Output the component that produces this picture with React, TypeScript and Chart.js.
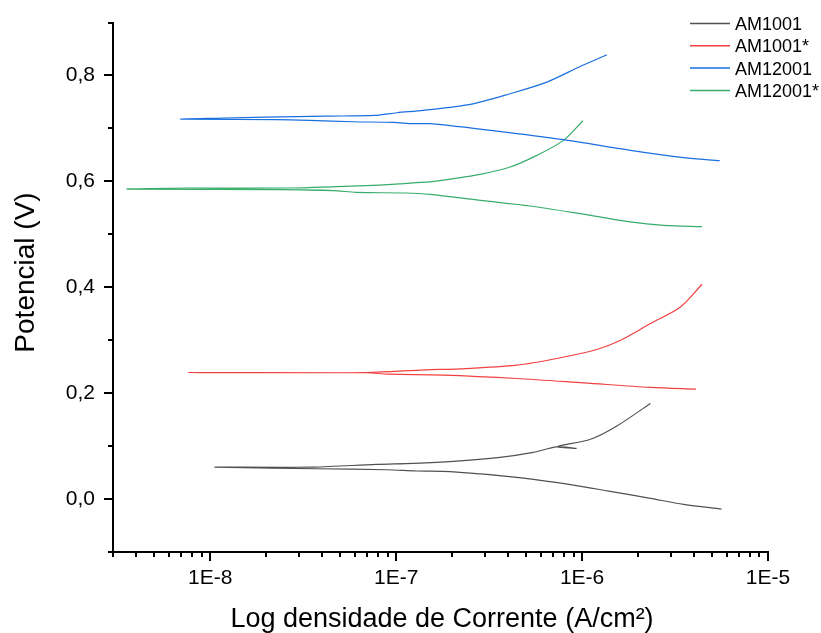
import React, { useEffect, useRef } from 'react';
import { Chart, registerables } from 'chart.js';

Chart.register(...registerables);

// ---- Data (current density in A/cm², potential in V) ----
const seriesLabels = ['AM1001', 'AM1001*', 'AM12001', 'AM12001*'];
const seriesColors = ['#515151', '#F14040', '#1A6FDF', '#37AD6B'];

const am1001Current = [5.62e-6, 3.52e-6, 2.33e-6, 1.39e-6, 8.99e-7, 4.45e-7, 1.95e-7, 1.29e-7, 8.88e-8, 3.72e-8, 1.06e-8, 3.57e-8, 7.84e-8, 1.24e-7, 2.03e-7, 3.62e-7, 5.47e-7, 7.31e-7, 9.29e-7, 7.40e-7, 1.11e-6, 1.54e-6, 2.33e-6];
const am1001Potential = [-0.0189, -0.0100, 0.0013, 0.0151, 0.0264, 0.0409, 0.0518, 0.0530, 0.0553, 0.0572, 0.0604, 0.0604, 0.0655, 0.0674, 0.0711, 0.0787, 0.0881, 0.0985, 0.0957, 0.0990, 0.1130, 0.1380, 0.1806];

const am1001sCurrent = [4.10e-6, 2.33e-6, 1.02e-6, 4.45e-7, 1.79e-7, 9.06e-8, 6.93e-8, 7.64e-9, 6.93e-8, 1.43e-7, 2.20e-7, 4.45e-7, 7.31e-7, 1.20e-6, 1.61e-6, 2.33e-6, 3.38e-6, 4.42e-6];
const am1001sPotential = [0.2075, 0.2108, 0.2194, 0.2277, 0.2340, 0.2358, 0.2385, 0.2390, 0.2390, 0.2440, 0.2458, 0.2528, 0.2655, 0.2825, 0.3000, 0.3315, 0.3628, 0.4057];

const am12001Current = [5.50e-6, 3.52e-6, 1.82e-6, 7.94e-7, 3.48e-7, 1.52e-7, 1.24e-7, 9.63e-8, 5.87e-8, 3.43e-8, 2.27e-8, 6.98e-9, 1.17e-8, 2.00e-8, 4.22e-8, 7.68e-8, 1.01e-7, 1.40e-7, 2.50e-7, 4.10e-7, 6.46e-7, 9.77e-7, 1.36e-6];
const am12001Potential = [0.6390, 0.6447, 0.6585, 0.6787, 0.6949, 0.7089, 0.7089, 0.7113, 0.7126, 0.7151, 0.7164, 0.7175, 0.7194, 0.7213, 0.7232, 0.7245, 0.7296, 0.7340, 0.7453, 0.7655, 0.7874, 0.8170, 0.8390];

const am12001sCurrent = [4.42e-6, 2.75e-6, 1.82e-6, 9.77e-7, 5.25e-7, 2.83e-7, 1.52e-7, 1.11e-7, 6.12e-8, 4.58e-8, 2.46e-8, 3.60e-9, 7.43e-9, 2.73e-8, 4.77e-8, 6.93e-8, 9.45e-8, 1.29e-7, 1.52e-7, 2.83e-7, 4.10e-7, 5.71e-7, 7.94e-7, 1.01e-6];
const am12001sPotential = [0.5145, 0.5170, 0.5233, 0.5390, 0.5535, 0.5642, 0.5755, 0.5780, 0.5792, 0.5825, 0.5843, 0.5855, 0.5874, 0.5874, 0.5900, 0.5919, 0.5943, 0.5975, 0.5990, 0.6132, 0.6270, 0.6490, 0.6774, 0.7145];

// ---- Axes ----
const xMin = 3e-9;
const xMax = 1e-5;
const xMajorTicks = [1e-8, 1e-7, 1e-6, 1e-5];
const xTickLabels = ['1E-8', '1E-7', '1E-6', '1E-5'];
const xMinorMultipliers = [1, 2, 3, 4, 5, 6, 7, 8, 9];
const xDecades = [-9, -8, -7, -6, -5];

const yMin = -0.1;
const yMax = 0.9;
const yTickValues = [-0.1, 0.0, 0.1, 0.2, 0.3, 0.4, 0.5, 0.6, 0.7, 0.8, 0.9];
const yTickLabels = ['', '0,0', '', '0,2', '', '0,4', '', '0,6', '', '0,8', ''];

const xTitle = 'Log densidade de Corrente (A/cm²)';
const yTitle = 'Potencial (V)';

const FONT = '"Liberation Sans", Arial, Helvetica, sans-serif';

function toPoints(xs: number[], ys: number[]) {
  return xs.map((x, i) => ({ x, y: ys[i] }));
}

function isXMajor(v: number) {
  return xMajorTicks.some((m) => Math.abs(m - v) / m < 1e-6);
}
function isYMajor(v: number) {
  const i = yTickValues.findIndex((t) => Math.abs(t - v) < 1e-9);
  return i >= 0 && yTickLabels[i] !== '';
}

const xTickValues: number[] = [];
xDecades.forEach((d) => {
  xMinorMultipliers.forEach((m) => {
    const v = m * Math.pow(10, d);
    if (v >= xMin * (1 - 1e-9) && v <= xMax * (1 + 1e-9)) xTickValues.push(v);
  });
});

const decorPlugin = {
  id: 'decor',
  afterDraw(chart: any) {
    const { ctx } = chart;
    const xs = chart.scales.x;
    const ys = chart.scales.y;
    ctx.save();
    // tick marks
    ctx.strokeStyle = '#000';
    ctx.lineWidth = 2;
    xs.ticks.forEach((t: any) => {
      const px = Math.round(xs.getPixelForValue(t.value));
      const len = isXMajor(t.value) ? 9 : 5;
      ctx.beginPath();
      ctx.moveTo(px, xs.top);
      ctx.lineTo(px, xs.top + len);
      ctx.stroke();
    });
    ys.ticks.forEach((t: any) => {
      const py = Math.round(ys.getPixelForValue(t.value));
      const len = isYMajor(t.value) ? 9 : 5;
      ctx.beginPath();
      ctx.moveTo(ys.right, py);
      ctx.lineTo(ys.right - len, py);
      ctx.stroke();
    });

    // axis titles
    ctx.fillStyle = '#000';
    ctx.font = `27px ${FONT}`;
    ctx.textAlign = 'center';
    ctx.textBaseline = 'alphabetic';
    ctx.fillText(xTitle, 442, 627);

    ctx.save();
    ctx.translate(33.5, 272.5);
    ctx.rotate(-Math.PI / 2);
    ctx.font = `28px ${FONT}`;
    ctx.fillText(yTitle, 0, 0);
    ctx.restore();

    // legend
    ctx.font = `18px ${FONT}`;
    ctx.textAlign = 'left';
    ctx.textBaseline = 'alphabetic';
    chart.data.datasets.forEach((ds: any, i: number) => {
      const cy = 23.5 + i * 22.3;
      ctx.strokeStyle = ds.borderColor;
      ctx.lineWidth = 1.5;
      ctx.beginPath();
      ctx.moveTo(690, cy);
      ctx.lineTo(730, cy);
      ctx.stroke();
      ctx.fillStyle = '#000';
      ctx.fillText(ds.label, 735, cy + 6.5);
    });
    ctx.restore();
  },
};

export default function App() {
  const ref = useRef<HTMLCanvasElement>(null);

  useEffect(() => {
    const canvas = ref.current;
    if (!canvas) return;
    const seriesX = [am1001Current, am1001sCurrent, am12001Current, am12001sCurrent];
    const seriesY = [am1001Potential, am1001sPotential, am12001Potential, am12001sPotential];
    const chart = new Chart(canvas, {
      type: 'scatter',
      data: {
        datasets: seriesLabels.map((label, i) => ({
          label,
          data: toPoints(seriesX[i], seriesY[i]),
          showLine: true,
          borderColor: seriesColors[i],
          backgroundColor: seriesColors[i],
          borderWidth: 1.2,
          pointRadius: 0,
          tension: 0.3,
        })),
      },
      options: {
        animation: false,
        responsive: false,
        maintainAspectRatio: false,
        layout: { padding: { top: 22.5, right: 53, left: 0, bottom: 0 } },
        plugins: {
          legend: { display: false },
          tooltip: { enabled: false },
        },
        scales: {
          x: {
            type: 'logarithmic',
            position: 'bottom',
            min: xMin,
            max: xMax,
            afterBuildTicks: (scale: any) => {
              scale.ticks = xTickValues.map((v) => ({ value: v, major: isXMajor(v) }));
            },
            afterFit: (scale: any) => {
              scale.height = 81;
              scale.paddingLeft = 0;
              scale.paddingRight = 0;
            },
            grid: { display: true, drawOnChartArea: false, drawTicks: false },
            border: { display: true, color: '#000', width: 2 },
            ticks: {
              autoSkip: false,
              maxRotation: 0,
              minRotation: 0,
              padding: 14,
              color: '#000',
              font: { family: FONT, size: 21 },
              callback: (value: any) => {
                const v = Number(value);
                const i = xMajorTicks.findIndex((m) => Math.abs(m - v) / m < 1e-6);
                return i >= 0 ? xTickLabels[i] : '';
              },
            },
          },
          y: {
            type: 'linear',
            position: 'left',
            min: yMin,
            max: yMax,
            afterBuildTicks: (scale: any) => {
              scale.ticks = yTickValues.map((v) => ({ value: v }));
            },
            afterFit: (scale: any) => {
              scale.width = 113;
              scale.paddingTop = 0;
              scale.paddingBottom = 0;
            },
            grid: { display: true, drawOnChartArea: false, drawTicks: false },
            border: { display: true, color: '#000', width: 2 },
            ticks: {
              autoSkip: false,
              padding: 18,
              color: '#000',
              font: { family: FONT, size: 21 },
              callback: (value: any) => {
                const v = Number(value);
                const i = yTickValues.findIndex((t) => Math.abs(t - v) < 1e-9);
                return i >= 0 ? yTickLabels[i] : '';
              },
            },
          },
        },
      },
      plugins: [decorPlugin],
    } as any);
    return () => chart.destroy();
  }, []);

  return (
    <div style={{ position: 'absolute', left: 0, top: 0, width: 821, height: 633, background: '#fff' }}>
      <canvas ref={ref} width={821} height={633} style={{ display: 'block', width: 821, height: 633 }} />
    </div>
  );
}
